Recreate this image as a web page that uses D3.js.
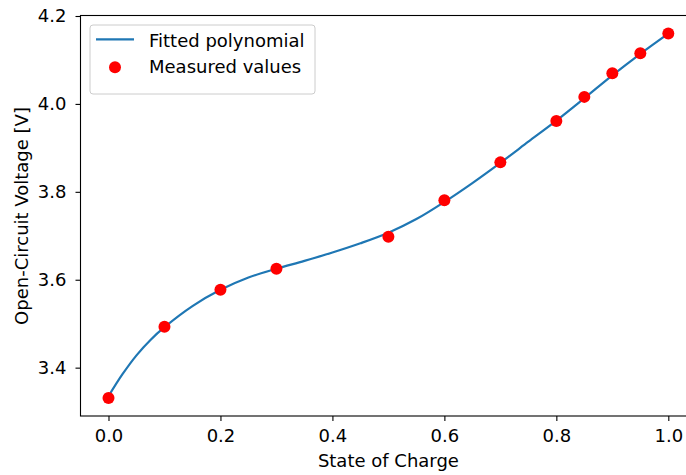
<!DOCTYPE html>
<html>
<head>
<meta charset="utf-8">
<script src="https://cdn.jsdelivr.net/npm/d3@7"></script>
<style>
  body { margin: 0; background: #fff; }
  svg { display: block; overflow: hidden; }
  text { font-family: "DejaVu Sans", sans-serif; fill: #000; }
  .tick text { font-size: 18px; }
  .tick line { stroke: #000; stroke-width: 1.1; }
</style>
</head>
<body>
<div id="chart"></div>
<script>
// measured open-circuit voltage points
let socMeasured = [0.0, 0.1, 0.2, 0.3, 0.5, 0.6, 0.7, 0.8, 0.85, 0.9, 0.95, 1.0];
let ocvMeasured = [3.331, 3.493, 3.577, 3.625, 3.698, 3.781, 3.867, 3.961, 4.016, 4.070, 4.115, 4.160];

// fitted polynomial
let socFit = [0.0, 0.025, 0.05, 0.075, 0.1, 0.15, 0.2, 0.25, 0.3, 0.35, 0.4, 0.45, 0.5,
              0.55, 0.6, 0.65, 0.7, 0.75, 0.8, 0.85, 0.9, 0.95, 1.0];
let ocvFit = [3.335, 3.385, 3.428, 3.463, 3.492, 3.540, 3.577, 3.605, 3.625, 3.643, 3.662, 3.683, 3.707,
              3.738, 3.777, 3.820, 3.866, 3.914, 3.962, 4.013, 4.065, 4.114, 4.160];

let xTicks = [0.0, 0.2, 0.4, 0.6, 0.8, 1.0];
let yTicks = [3.4, 3.6, 3.8, 4.0, 4.2];

let svgWidth = 686;
let svgHeight = 475;

// plot area (right edge sits past the picture edge, like the original)
let area = { left: 80.5, top: 16, right: 696.3, bottom: 416 };

let svg = d3.select('#chart')
            .append('svg')
            .attr('width', svgWidth)
            .attr('height', svgHeight);

let xScale = d3.scaleLinear()
               .domain([-0.05, 1.05])
               .range([area.left, area.right]);

let yScale = d3.scaleLinear()
               .domain([3.29, 4.2])
               .range([area.bottom, area.top]);

// axes
let xAxis = d3.axisBottom(xScale)
              .tickValues(xTicks)
              .tickFormat(d3.format('.1f'))
              .tickSizeInner(5)
              .tickSizeOuter(0)
              .tickPadding(8);
let yAxis = d3.axisLeft(yScale)
              .tickValues(yTicks)
              .tickFormat(d3.format('.1f'))
              .tickSizeInner(5)
              .tickSizeOuter(0)
              .tickPadding(9);

let gx = svg.append('g')
            .attr('transform', `translate(0, ${area.bottom})`)
            .call(xAxis)
            .attr('font-family', null)
            .attr('font-size', null);
gx.select('.domain').remove();

let gy = svg.append('g')
            .attr('transform', `translate(${area.left}, 0)`)
            .call(yAxis)
            .attr('font-family', null)
            .attr('font-size', null);
gy.select('.domain').remove();

// clipped plot content
svg.append('clipPath')
   .attr('id', 'plotClip')
   .append('rect')
   .attr('x', area.left)
   .attr('y', area.top)
   .attr('width', area.right - area.left)
   .attr('height', area.bottom - area.top);

let plot = svg.append('g').attr('clip-path', 'url(#plotClip)');

let fitData = socFit.map((s, i) => ({ soc: s, ocv: ocvFit[i] }));
let measData = socMeasured.map((s, i) => ({ soc: s, ocv: ocvMeasured[i] }));

let line = d3.line()
             .x(d => xScale(d.soc))
             .y(d => yScale(d.ocv))
             .curve(d3.curveCatmullRom.alpha(0.5));

plot.append('path')
    .datum(fitData)
    .attr('d', line)
    .attr('fill', 'none')
    .attr('stroke', '#1f77b4')
    .attr('stroke-width', 2.2);

plot.selectAll('circle')
    .data(measData)
    .enter()
    .append('circle')
    .attr('cx', d => xScale(d.soc))
    .attr('cy', d => yScale(d.ocv))
    .attr('r', 6)
    .attr('fill', '#ff0000');

// spines
svg.append('rect')
   .attr('x', area.left)
   .attr('y', area.top - 0.5)
   .attr('width', area.right - area.left)
   .attr('height', area.bottom - area.top + 0.5)
   .attr('fill', 'none')
   .attr('stroke', '#000')
   .attr('stroke-width', 1.1);

// legend
let legend = svg.append('g').attr('transform', 'translate(90, 25)');
legend.append('rect')
      .attr('width', 225)
      .attr('height', 69)
      .attr('rx', 3)
      .attr('fill', '#fff')
      .attr('fill-opacity', 0.8)
      .attr('stroke', '#cccccc')
      .attr('stroke-width', 1);
legend.append('line')
      .attr('x1', 6).attr('x2', 44)
      .attr('y1', 14.3).attr('y2', 14.3)
      .attr('stroke', '#1f77b4')
      .attr('stroke-width', 2.2);
legend.append('circle')
      .attr('cx', 25).attr('cy', 42.3)
      .attr('r', 6)
      .attr('fill', '#ff0000');
legend.append('text')
      .attr('x', 59).attr('y', 21.7)
      .attr('font-size', 18)
      .text('Fitted polynomial');
legend.append('text')
      .attr('x', 59).attr('y', 48.3)
      .attr('font-size', 18)
      .text('Measured values');

// axis titles
svg.append('text')
   .attr('x', (area.left + area.right) / 2)
   .attr('y', 467)
   .attr('text-anchor', 'middle')
   .attr('font-size', 18)
   .text('State of Charge');
svg.append('text')
   .attr('transform', `translate(28, ${(area.top + area.bottom) / 2}) rotate(-90)`)
   .attr('text-anchor', 'middle')
   .attr('font-size', 18)
   .text('Open-Circuit Voltage [V]');
</script>
</body>
</html>
